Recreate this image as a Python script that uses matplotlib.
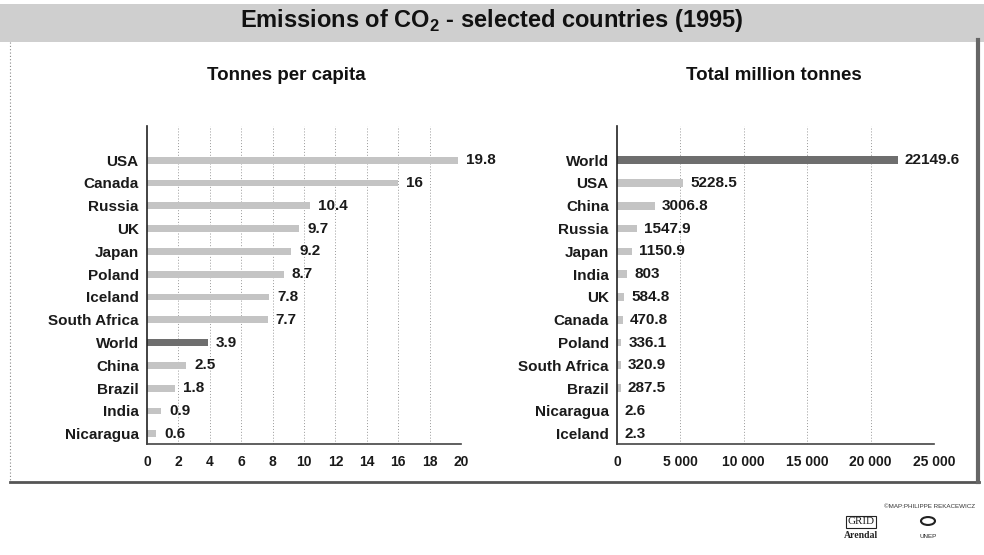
import matplotlib
matplotlib.use("Agg")
import matplotlib.pyplot as plt
from matplotlib.patches import Rectangle, Circle

# ---- data ----
percap_countries = ["USA", "Canada", "Russia", "UK", "Japan", "Poland", "Iceland",
                    "South Africa", "World", "China", "Brazil", "India", "Nicaragua"]
percap_values = [19.8, 16, 10.4, 9.7, 9.2, 8.7, 7.8, 7.7, 3.9, 2.5, 1.8, 0.9, 0.6]
percap_labels = ["19.8", "16", "10.4", "9.7", "9.2", "8.7", "7.8", "7.7", "3.9",
                 "2.5", "1.8", "0.9", "0.6"]
percap_ticks = [0, 2, 4, 6, 8, 10, 12, 14, 16, 18, 20]

total_countries = ["World", "USA", "China", "Russia", "Japan", "India", "UK",
                   "Canada", "Poland", "South Africa", "Brazil", "Nicaragua", "Iceland"]
total_values = [22149.6, 5228.5, 3006.8, 1547.9, 1150.9, 803, 584.8, 470.8,
                336.1, 320.9, 287.5, 2.6, 2.3]
total_labels = ["22149.6", "5228.5", "3006.8", "1547.9", "1150.9", "803", "584.8",
                "470.8", "336.1", "320.9", "287.5", "2.6", "2.3"]
total_ticks = [0, 5000, 10000, 15000, 20000, 25000]
total_ticklabels = ["0", "5 000", "10 000", "15 000", "20 000", "25 000"]

# ---- fonts ----
plt.rcParams["font.family"] = ["Liberation Sans", "DejaVu Sans"]
plt.rcParams["mathtext.fontset"] = "custom"
plt.rcParams["mathtext.rm"] = "Liberation Sans"
plt.rcParams["mathtext.bf"] = "Liberation Sans:bold"

W, H = 984, 555
fig = plt.figure(figsize=(W / 100, H / 100), dpi=100)
fig.patch.set_facecolor("white")

def fx(px):
    return px / W

def fy(py):
    return 1 - py / H

# banner
fig.patches.append(Rectangle((0, fy(42)), 1, fy(4) - fy(42), transform=fig.transFigure,
                             facecolor="#cfcfcf", edgecolor="none", zorder=0))
fig.text(0.5, fy(21), r"Emissions of CO$_{\mathbf{2}}$ - selected countries (1995)",
         ha="center", va="center", fontsize=17, fontweight="bold", color="#111111")

# frame
fig.add_artist(plt.Line2D([fx(10), fx(10)], [fy(42), fy(482)], color="#888888",
                          lw=0.8, ls=(0, (1, 2)), transform=fig.transFigure))
fig.add_artist(plt.Line2D([fx(10), fx(979)], [fy(482), fy(482)], color="#555555",
                          lw=2, transform=fig.transFigure))
fig.add_artist(plt.Line2D([fx(978), fx(978)], [fy(40), fy(482)], color="#666666",
                          lw=3, transform=fig.transFigure))

bar_light = "#c4c4c4"
bar_dark = "#6e6e6e"

def panel(ax, cats, vals, labs, ticks, ticklabels, xmax, gap, bh):
    n = len(cats)
    ys = list(range(n))
    colors = [bar_dark if c == "World" else bar_light for c in cats]
    ax.barh(ys, vals, height=bh, color=colors, edgecolor="none", zorder=2)
    for y, v, l in zip(ys, vals, labs):
        ax.text(v + gap, y, l, va="center", ha="left", fontsize=11, fontweight="bold",
                color="#1a1a1a", zorder=3)
    ax.set_ylim(n - 1 + 0.45, -1.5)
    ax.set_xlim(0, xmax)
    ax.set_yticks(ys)
    ax.set_yticklabels(cats, fontsize=11, fontweight="bold", color="#1a1a1a")
    ax.set_xticks(ticks)
    ax.set_xticklabels(ticklabels, fontsize=10, fontweight="bold", color="#1a1a1a")
    ax.tick_params(axis="both", length=0, pad=8)
    ax.tick_params(axis="y", pad=6)
    for s in ["top", "right"]:
        ax.spines[s].set_visible(False)
    ax.spines["left"].set_color("#222222")
    ax.spines["bottom"].set_color("#444444")
    ax.spines["left"].set_linewidth(1.2)
    ax.spines["bottom"].set_linewidth(1.2)
    for t in ticks[1:]:
        ax.axvline(t, color="#999999", lw=0.7, ls=(0, (1, 2)), zorder=1)
    ax.set_facecolor("none")

ax1 = fig.add_axes([fx(147), fy(444), fx(461) - fx(147), fy(126) - fy(444)])
panel(ax1, percap_countries, percap_values, percap_labels, percap_ticks,
      [str(t) for t in percap_ticks], 20, 0.5, 0.3)

ax2 = fig.add_axes([fx(617), fy(444), fx(934) - fx(617), fy(126) - fy(444)])
panel(ax2, total_countries, total_values, total_labels, total_ticks,
      total_ticklabels, 25000, 550, 0.34)

fig.text(fx(286), fy(76), "Tonnes per capita", ha="center", va="center",
         fontsize=13.5, fontweight="bold", color="#111111")
fig.text(fx(774), fy(76), "Total million tonnes", ha="center", va="center",
         fontsize=13.5, fontweight="bold", color="#111111")

# footer credits
fig.text(fx(975), fy(506), "©MAP:PHILIPPE REKACEWICZ", ha="right", va="center",
         fontsize=4.5, color="#333333")
fig.text(fx(861), fy(522), "GRID", ha="center", va="center", fontsize=8,
         family="Liberation Serif", color="#222222",
         bbox=dict(boxstyle="square,pad=0.15", fc="white", ec="#222222", lw=0.8))
fig.text(fx(861), fy(536), "Arendal", ha="center", va="center", fontsize=7,
         fontweight="bold", family="Liberation Serif", color="#222222")
fig.patches.append(Circle((fx(928), fy(521)), 7 / W, transform=fig.transFigure,
                          facecolor="white", edgecolor="#222222", lw=1.5))
fig.text(fx(928), fy(537), "UNEP", ha="center", va="center", fontsize=4.5,
         color="#222222")

fig.savefig("out.png", dpi=100)
